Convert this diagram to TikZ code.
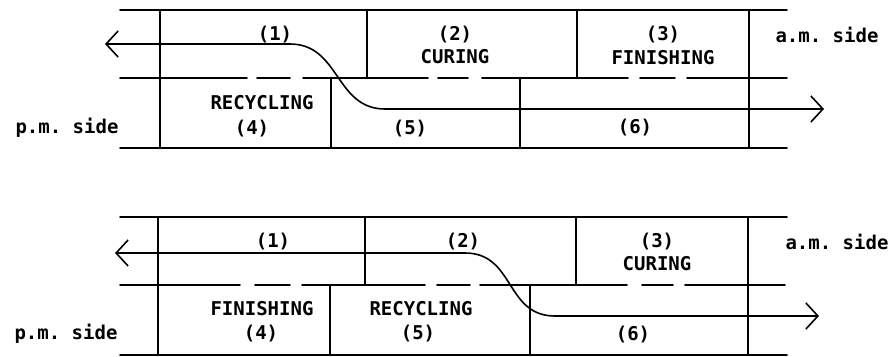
\documentclass[tikz,border=0pt]{standalone}
\usepackage{fontspec}
\setmonofont{DejaVu Sans Mono}
\usetikzlibrary{arrows.meta}
\tikzset{
  wall/.style={line width=1.8pt, line cap=round},
  flow/.style={line width=1.6pt, -{Straight Barb[length=12pt,width=26pt,line width=1.6pt]}},
  lbl/.style={font=\ttfamily\bfseries\fontsize{19}{20}\selectfont, inner sep=0pt, text depth=0pt},
}
\begin{document}
\begin{tikzpicture}[x=1pt,y=-1pt]
\useasboundingbox (0,0) rectangle (891,356);

% ---------- top diagram ----------
\draw[wall] (120,10) -- (787,10);
\draw[wall] (120,148) -- (787,148);
\draw[wall] (120,78) -- (247,78) (257,78) -- (290,78) (303,78) -- (428,78)
            (438,78) -- (468,78) (482,78) -- (628,78) (640,78) -- (675,78) (687,78) -- (787,78);
\draw[wall] (160,10) -- (160,148);
\draw[wall] (749,10) -- (749,148);
\draw[wall] (367,10) -- (367,78);
\draw[wall] (577,10) -- (577,78);
\draw[wall] (331,78) -- (331,148);
\draw[wall] (520,78) -- (520,148);

\coordinate (t1) at (290,44);
\coordinate (t2) at (385,109);
\coordinate (tl) at (105,44);
\coordinate (tr) at (824,109);
\draw[flow] (t1) -- (tl);
\draw[line width=1.6pt] (t1) .. controls (340,44) and (335,109) .. (t2);
\draw[flow] (t2) -- (tr);

\node[lbl] (a1) at (275,33) {(1)};
\node[lbl] (a2) at (455,33) {(2)};
\node[lbl] (a2b) at (455,56) {CURING};
\node[lbl] (a3) at (663,33) {(3)};
\node[lbl] (a3b) at (663,57) {FINISHING};
\node[lbl] (aam) at (827,35) {a.m. side};
\node[lbl] (a4a) at (262,102) {RECYCLING};
\node[lbl] (a4) at (252,127) {(4)};
\node[lbl] (a5) at (410,127) {(5)};
\node[lbl] (a6) at (635,126) {(6)};
\node[lbl] (apm) at (67,126) {p.m. side};

% ---------- bottom diagram ----------
\draw[wall] (120,217) -- (787,217);
\draw[wall] (120,355) -- (787,355);
\draw[wall] (120,285) -- (240,285) (255,285) -- (290,285) (302,285) -- (425,285)
            (437,285) -- (470,285) (480,285) -- (627,285) (642,285) -- (673,285) (685,285) -- (785,285);
\draw[wall] (158,217) -- (158,355);
\draw[wall] (748,217) -- (748,355);
\draw[wall] (365,217) -- (365,285);
\draw[wall] (576,217) -- (576,285);
\draw[wall] (330,285) -- (330,355);
\draw[wall] (530,285) -- (530,355);

\coordinate (b1) at (465,253);
\coordinate (b2) at (555,316);
\coordinate (bl) at (115,253);
\coordinate (br) at (819,316);
\draw[flow] (b1) -- (bl);
\draw[line width=1.6pt] (b1) .. controls (515,253) and (505,316) .. (b2);
\draw[flow] (b2) -- (br);

\node[lbl] (c1) at (273,240) {(1)};
\node[lbl] (c2) at (463,240) {(2)};
\node[lbl] (c3) at (657,240) {(3)};
\node[lbl] (c3b) at (657,263) {CURING};
\node[lbl] (cam) at (837,242) {a.m. side};
\node[lbl] (c4a) at (262,308) {FINISHING};
\node[lbl] (c4) at (261,332) {(4)};
\node[lbl] (c5a) at (421,308) {RECYCLING};
\node[lbl] (c5) at (418,332) {(5)};
\node[lbl] (c6) at (633,333) {(6)};
\node[lbl] (cpm) at (66,332) {p.m. side};
\end{tikzpicture}
\end{document}
